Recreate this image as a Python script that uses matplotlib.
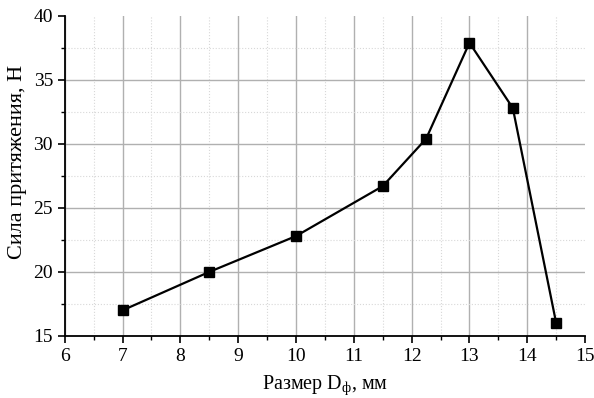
import matplotlib
matplotlib.use("Agg")
import matplotlib.pyplot as plt
from matplotlib.ticker import MultipleLocator

plt.rcParams['font.family'] = ['Liberation Serif', 'DejaVu Serif']
plt.rcParams['mathtext.fontset'] = 'custom'
plt.rcParams['mathtext.rm'] = 'Liberation Serif'
plt.rcParams['mathtext.it'] = 'Liberation Serif:italic'

# Data
size_mm = [7, 8.5, 10, 11.5, 12.25, 13, 13.75, 14.5]
force_n = [17.0, 20.0, 22.8, 26.7, 30.4, 37.9, 32.8, 16.0]

fig = plt.figure(figsize=(5.94, 3.98), dpi=100)
ax = fig.add_axes([0.109, 0.156, 0.876, 0.804])

ax.plot(size_mm, force_n, color='black', linewidth=1.6, marker='s',
        markersize=7, markerfacecolor='black', zorder=3)

ax.set_xlim(6, 15)
ax.set_ylim(15, 40)
ax.xaxis.set_major_locator(MultipleLocator(1))
ax.xaxis.set_minor_locator(MultipleLocator(0.5))
ax.yaxis.set_major_locator(MultipleLocator(5))
ax.yaxis.set_minor_locator(MultipleLocator(2.5))

ax.grid(which='major', color='#b0b0b0', linewidth=1.0)
ax.grid(which='minor', color='#d8d8d8', linewidth=0.8, linestyle=':')
ax.set_axisbelow(True)

for s in ['top', 'right']:
    ax.spines[s].set_visible(False)
for s in ['left', 'bottom']:
    ax.spines[s].set_linewidth(1.3)

ax.tick_params(which='major', direction='out', length=5, width=1.2, labelsize=14)
ax.tick_params(which='minor', direction='out', length=3, width=1.0)

ax.set_xlabel('Размер D$_{\\mathrm{ф}}$, мм', fontsize=14.5, labelpad=6)
ax.set_ylabel('Сила притяжения, Н', fontsize=16)
ax.yaxis.set_label_coords(-0.073, 0.544)

# no grid lines on the top and right edges
fig.canvas.draw()
for t in ax.xaxis.get_major_ticks():
    if abs(t.get_loc() - 15) < 1e-9:
        t.gridline.set_visible(False)
for t in ax.yaxis.get_major_ticks():
    if abs(t.get_loc() - 40) < 1e-9:
        t.gridline.set_visible(False)

fig.savefig('out.png', dpi=100)
